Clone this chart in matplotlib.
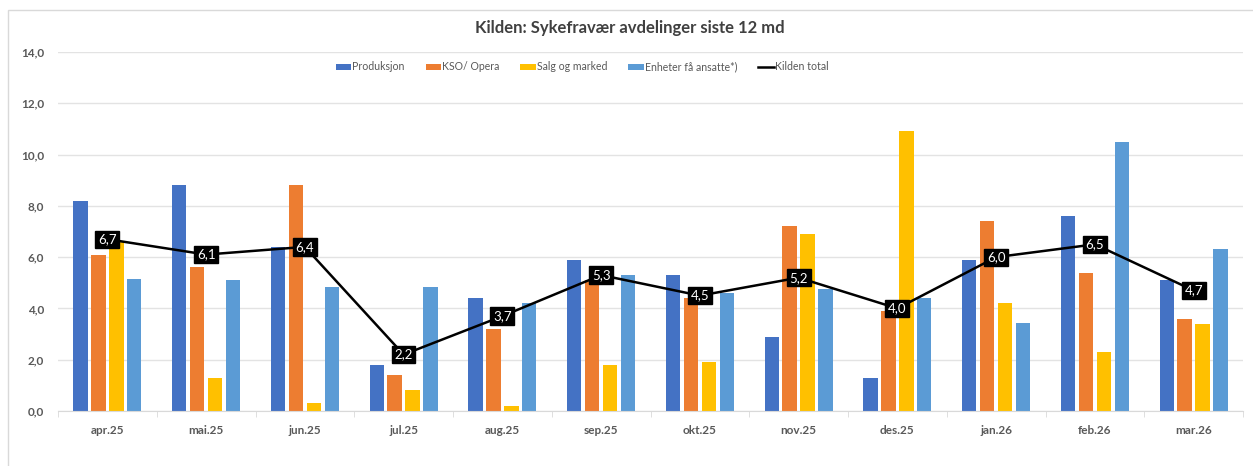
import matplotlib.pyplot as plt
import numpy as np
from matplotlib.patches import Rectangle

months = ["apr.25", "mai.25", "jun.25", "jul.25", "aug.25", "sep.25",
          "okt.25", "nov.25", "des.25", "jan.26", "feb.26", "mar.26"]
produksjon = [8.2, 8.8, 6.4, 1.8, 4.4, 5.9, 5.3, 2.9, 1.3, 5.9, 7.6, 5.1]
kso_opera = [6.1, 5.6, 8.8, 1.4, 3.2, 5.1, 4.4, 7.2, 3.9, 7.4, 5.4, 3.6]
salg = [6.6, 1.3, 0.3, 0.8, 0.2, 1.8, 1.9, 6.9, 10.9, 4.2, 2.3, 3.4]
enheter = [5.15, 5.1, 4.85, 4.85, 4.2, 5.3, 4.6, 4.75, 4.4, 3.45, 10.5, 6.3]
total = [6.7, 6.1, 6.4, 2.2, 3.7, 5.3, 4.5, 5.2, 4.0, 6.0, 6.5, 4.7]

series = [
    ("Produksjon", produksjon, "#4472C4"),
    ("KSO/ Opera", kso_opera, "#ED7D31"),
    ("Salg og marked", salg, "#FFC000"),
    ("Enheter få ansatte*)", enheter, "#5B9BD5"),
]

plt.rcParams["font.family"] = ["Lato", "DejaVu Sans"]
GREY = "#595959"

fig = plt.figure(figsize=(12.53, 4.66), dpi=100)
# chart frame
fig.patches.append(Rectangle((8 / 1253, -0.1), 1.1, 1 - 10 / 466 + 0.1,
                             transform=fig.transFigure, fill=False,
                             edgecolor="#D9D9D9", linewidth=1.0))

ax = fig.add_axes([58 / 1253, 1 - 411 / 466, (1243 - 58) / 1253, (411 - 52) / 466])
x = np.arange(len(months))
step = 0.182
width = 0.145
handles = []
for i, (name, vals, color) in enumerate(series):
    h = ax.bar(x + (i - 1.5) * step, vals, width, color=color, label=name, zorder=2)
    handles.append(h)

line, = ax.plot(x, total, color="black", linewidth=1.8, label="Kilden total", zorder=3)
handles.append(line)
for xi, v in zip(x, total):
    ax.text(xi, v, f"{v:.1f}".replace(".", ","), ha="center", va="center",
            color="white", fontsize=9.5, zorder=4,
            bbox=dict(boxstyle="square,pad=0.2", facecolor="black", edgecolor="black"))

ax.set_xlim(-0.5, len(months) - 0.5)
ax.set_ylim(0, 14)
ax.set_yticks(np.arange(0, 15, 2))
ax.set_yticklabels([f"{t:.1f}".replace(".", ",") for t in np.arange(0, 15, 2)])
ax.set_xticks(x)
ax.set_xticklabels(months)
ax.set_xticks(np.arange(-0.5, len(months), 1), minor=True)
ax.tick_params(axis="x", which="major", length=0, pad=10, labelsize=8.5, labelcolor=GREY)
ax.tick_params(axis="x", which="minor", length=4, color="#D9D9D9")
ax.tick_params(axis="y", length=0, pad=10, labelsize=8.5, labelcolor=GREY)
for lbl in ax.get_xticklabels() + ax.get_yticklabels():
    lbl.set_fontweight("bold")
ax.grid(axis="y", color="#E3E3E3", linewidth=1.0, zorder=0)
for side in ["top", "right", "left"]:
    ax.spines[side].set_visible(False)
ax.spines["bottom"].set_color("#D9D9D9")

fig.text(630 / 1253, 1 - 28 / 466, "Kilden: Sykefravær avdelinger siste 12 md",
         ha="center", va="center", fontsize=12, fontweight="bold", color="#404040")
leg = ax.legend(handles=handles, loc="center", bbox_to_anchor=(582 / 1253, 1 - 67 / 466),
                bbox_transform=fig.transFigure, ncol=5, frameon=False,
                fontsize=7.6, handlelength=1.45, handleheight=0.55,
                handletextpad=0.1, columnspacing=2.0)
for t in leg.get_texts():
    t.set_color(GREY)

fig.savefig("out.png", dpi=100, facecolor="white")
